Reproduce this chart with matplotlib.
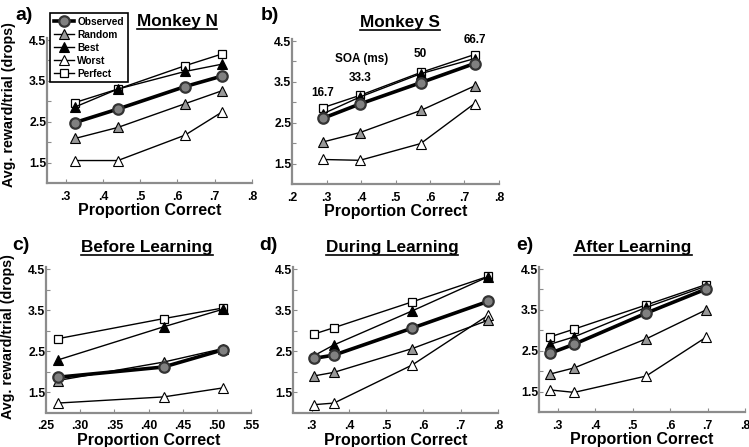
import matplotlib
matplotlib.use('Agg')
import matplotlib.pyplot as plt
from matplotlib.lines import Line2D

plt.rcParams['font.family'] = ['Liberation Sans', 'DejaVu Sans']
plt.rcParams['font.weight'] = 'bold'

# Panel a: Monkey N
pc_a = [0.325, 0.44, 0.62, 0.72]
obs_a = [2.48, 2.81, 3.36, 3.62]
rand_a = [2.09, 2.36, 2.94, 3.26]
best_a = [2.86, 3.30, 3.73, 3.91]
worst_a = [1.55, 1.55, 2.17, 2.74]
perf_a = [2.97, 3.30, 3.87, 4.16]

# Panel b: Monkey S
pc_b = [0.29, 0.397, 0.573, 0.729]
obs_b = [2.61, 2.96, 3.48, 3.95]
rand_b = [2.03, 2.26, 2.80, 3.40]
best_b = [2.72, 3.13, 3.70, 4.07]
worst_b = [1.60, 1.58, 1.99, 2.97]
perf_b = [2.87, 3.17, 3.73, 4.17]
soa_labels = ['16.7', '33.3', '50', '66.7']

# Panel c: Before Learning
pc_c = [0.267, 0.422, 0.509]
obs_c = [1.86, 2.11, 2.53]
rand_c = [1.78, 2.23, 2.56]
best_c = [2.28, 3.09, 3.52]
worst_c = [1.23, 1.38, 1.60]
perf_c = [2.80, 3.29, 3.55]

# Panel d: During Learning
pc_d = [0.305, 0.36, 0.57, 0.773]
obs_d = [2.32, 2.40, 3.06, 3.71]
rand_d = [1.89, 1.98, 2.56, 3.25]
best_d = [2.38, 2.65, 3.48, 4.31]
worst_d = [1.19, 1.23, 2.16, 3.37]
perf_d = [2.91, 3.07, 3.70, 4.32]

# Panel e: After Learning
pc_e = [0.28, 0.344, 0.536, 0.696]
obs_e = [2.44, 2.66, 3.42, 4.01]
rand_e = [1.93, 2.08, 2.79, 3.50]
best_e = [2.66, 2.84, 3.56, 4.08]
worst_e = [1.54, 1.48, 1.88, 2.83]
perf_e = [2.84, 3.03, 3.62, 4.12]

yticks = [1.5, 2.5, 3.5, 4.5]
xt_std = [0.3, 0.4, 0.5, 0.6, 0.7, 0.8]
xt_b = [0.2, 0.3, 0.4, 0.5, 0.6, 0.7, 0.8]
xt_c = [0.25, 0.30, 0.35, 0.40, 0.45, 0.50, 0.55]

W, H = 749, 447
fig = plt.figure(figsize=(W / 100, H / 100), dpi=100)

SPINE = '#8c8c8c'
GRAY = '#808080'


def make_ax(left, right, top, bottom):
    # pixel box -> figure fraction
    return fig.add_axes([left / W, 1 - bottom / H, (right - left) / W, (bottom - top) / H])


def draw_panel(ax, pc, obs, rand, best, worst, perf, xlim, xt, xfmt):
    ax.plot(pc, perf, '-', color='black', lw=1.0, marker='s', ms=6,
            mfc='white', mec='black', mew=0.9, label='Perfect', zorder=2)
    ax.plot(pc, worst, '-', color='black', lw=1.0, marker='^', ms=6.5,
            mfc='white', mec='black', mew=0.8, label='Worst', zorder=2)
    ax.plot(pc, rand, '-', color='black', lw=1.0, marker='^', ms=6.5,
            mfc='#999999', mec='black', mew=0.8, label='Random', zorder=3)
    ax.plot(pc, best, '-', color='black', lw=1.0, marker='^', ms=6.5,
            mfc='black', mec='black', mew=0.8, label='Best', zorder=3)
    ax.plot(pc, obs, '-', color='black', lw=2.6, marker='o', ms=7.5,
            mfc=GRAY, mec='#333333', mew=1.6, label='Observed', zorder=4)
    ax.set_xlim(*xlim)
    ax.set_ylim(1.0, 4.55)
    ax.set_xticks(xt)
    ax.set_xticklabels([format(v, xfmt).lstrip('0') for v in xt])
    ax.set_yticks(yticks)
    ax.set_yticks([2.0, 3.0, 4.0], minor=True)
    for s in ['top', 'right']:
        ax.spines[s].set_visible(False)
    for s in ['left', 'bottom']:
        ax.spines[s].set_color(SPINE)
        ax.spines[s].set_linewidth(1.6)
    ax.tick_params(axis='both', which='both', direction='in', color=SPINE,
                   length=3, width=0.8, labelsize=8.8)
    ax.tick_params(axis='x', pad=5.5)
    ax.tick_params(axis='y', pad=0.5)
    ax.set_xlabel('Proportion Correct', fontsize=11.5, fontweight='bold', labelpad=0.5)


ax_a = make_ax(47, 252, 38, 183)
draw_panel(ax_a, pc_a, obs_a, rand_a, best_a, worst_a, perf_a, (0.25, 0.8), xt_std, '.1f')
ax_b = make_ax(292, 499, 39, 184)
draw_panel(ax_b, pc_b, obs_b, rand_b, best_b, worst_b, perf_b, (0.2, 0.8), xt_b, '.1f')
ax_c = make_ax(46, 251, 267, 412.5)
draw_panel(ax_c, pc_c, obs_c, rand_c, best_c, worst_c, perf_c, (0.25, 0.55), xt_c, '.2f')
ax_d = make_ax(293, 498, 267, 412.5)
draw_panel(ax_d, pc_d, obs_d, rand_d, best_d, worst_d, perf_d, (0.25, 0.8), xt_std, '.1f')
ax_e = make_ax(539, 745, 267, 412)
draw_panel(ax_e, pc_e, obs_e, rand_e, best_e, worst_e, perf_e, (0.25, 0.8), xt_std, '.1f')

ax_a.set_ylabel('Avg. reward/trial (drops)', fontsize=10.3, fontweight='bold')
ax_a.yaxis.set_label_coords(-0.152, 0.54)
ax_c.set_ylabel('Avg. reward/trial (drops)', fontsize=10.3, fontweight='bold')
ax_c.yaxis.set_label_coords(-0.152, 0.52)

# SOA labels above the points in panel b
soa_dy = [0.36, 0.43, 0.46, 0.36]
for x, y, lab, dy in zip(pc_b, perf_b, soa_labels, soa_dy):
    ax_b.text(x, y + dy, lab, ha='center', va='center', fontsize=8.5, fontweight='bold')
ax_b.text(0.403, 4.07, 'SOA (ms)', ha='center', va='center', fontsize=8.5, fontweight='bold')

# legend
handles, labels = ax_a.get_legend_handles_labels()
order = ['Observed', 'Random', 'Best', 'Worst', 'Perfect']
hmap = dict(zip(labels, handles))
leg = ax_a.legend([hmap[k] for k in order], order, loc='upper left',
                  bbox_to_anchor=(50 / W, 1 - 13 / H), bbox_transform=fig.transFigure,
                  fancybox=False, framealpha=1, edgecolor='black',
                  prop={'size': 7.3, 'weight': 'bold'}, handlelength=2.0,
                  handletextpad=0.35, labelspacing=0.3, borderpad=0.35,
                  borderaxespad=0)
leg.get_frame().set_linewidth(1.2)
leg.set_zorder(10)

# panel titles (underlined) and letters
titles = [('Monkey N', 177, 26), ('Monkey S', 400, 27),
          ('Before Learning', 147, 252), ('During Learning', 392, 252),
          ('After Learning', 633, 252)]
title_texts = []
for txt, x, y in titles:
    t = fig.text(x / W, 1 - y / H, txt, ha='center', va='baseline',
                 fontsize=12.3, fontweight='bold')
    title_texts.append((t, y))

letters = [('a)', 15, 20), ('b)', 261, 20), ('c)', 12, 250), ('d)', 259, 250), ('e)', 516, 250)]
for txt, x, y in letters:
    fig.text(x / W, 1 - y / H, txt, ha='left', va='baseline', fontsize=14, fontweight='bold')

fig.canvas.draw()
r = fig.canvas.get_renderer()
for t, y in title_texts:
    bb = t.get_window_extent(r)
    yy = 1 - (y + 3) / H
    fig.add_artist(Line2D([bb.x0 / W, bb.x1 / W], [yy, yy], color='black', lw=1.2,
                          transform=fig.transFigure))

fig.savefig('out.png', dpi=100)
